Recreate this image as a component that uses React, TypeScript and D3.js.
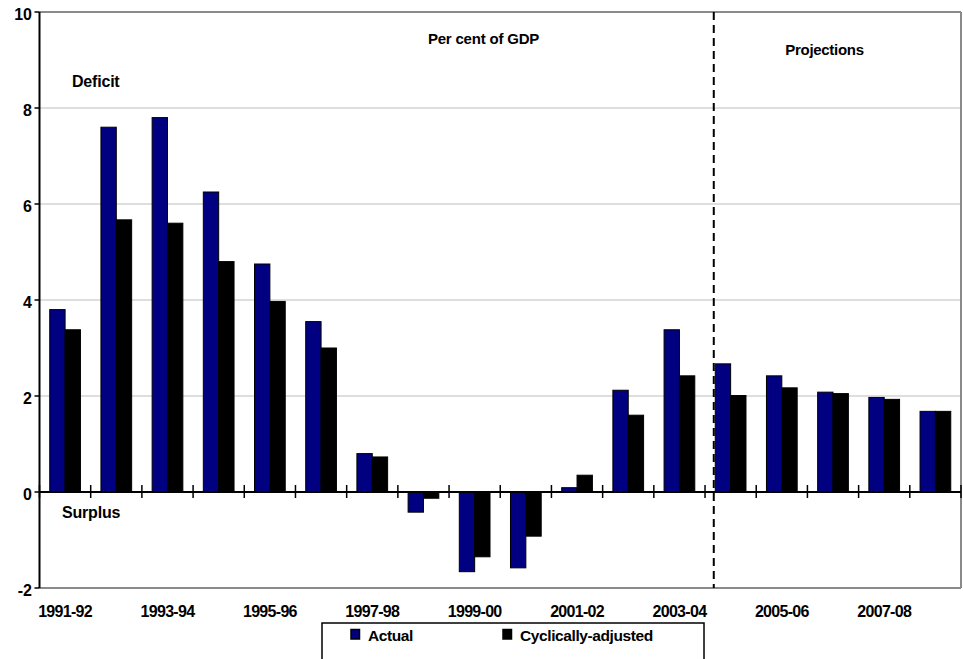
import React, { useEffect, useRef } from "react";
import * as d3 from "d3";

// Fiscal years on the category axis
const years = [
  "1991-92", "1992-93", "1993-94", "1994-95", "1995-96", "1996-97",
  "1997-98", "1998-99", "1999-00", "2000-01", "2001-02", "2002-03",
  "2003-04", "2004-05", "2005-06", "2006-07", "2007-08", "2008-09",
];
// Budget deficit, per cent of GDP
const actual = [
  3.8, 7.6, 7.8, 6.25, 4.75, 3.55, 0.8, -0.42, -1.66, -1.58, 0.09, 2.12,
  3.38, 2.67, 2.42, 2.08, 1.97, 1.68,
];
const cyclicallyAdjusted = [
  3.38, 5.67, 5.6, 4.8, 3.97, 3.0, 0.73, -0.13, -1.35, -0.92, 0.35, 1.6,
  2.42, 2.01, 2.17, 2.05, 1.93, 1.68,
];
const yTicks = [-2, 0, 2, 4, 6, 8, 10];
const firstProjection = "2004-05";

const W = 963;
const H = 659;
const FONT = "'Liberation Sans', Arial, sans-serif";

export default function App() {
  const ref = useRef<SVGSVGElement | null>(null);

  useEffect(() => {
    const svg = d3.select(ref.current);
    svg.selectAll("*").remove();

    const left = 39.5;
    const right = 961;
    const top = 12;
    const bottom = 588;

    const x = d3.scaleBand<string>().domain(years).range([left, right]).padding(0);
    const y = d3.scaleLinear().domain([-2, 10]).range([bottom, top]);
    const step = x.step();
    const barW = step * 0.3;
    const y0 = y(0);

    // horizontal gridlines
    svg
      .append("g")
      .selectAll("line")
      .data(yTicks.filter((t) => t !== 0 && t !== -2 && t !== 10))
      .join("line")
      .attr("x1", left)
      .attr("x2", right)
      .attr("y1", (d) => y(d))
      .attr("y2", (d) => y(d))
      .attr("stroke", "#bdbdbd")
      .attr("stroke-width", 1);

    // plot frame (top, right, bottom)
    const frame = svg.append("g").attr("stroke", "#8a8a8a").attr("stroke-width", 2).attr("fill", "none");
    frame.append("line").attr("x1", left).attr("x2", right).attr("y1", top).attr("y2", top);
    frame.append("line").attr("x1", right).attr("x2", right).attr("y1", top).attr("y2", bottom);
    frame.append("line").attr("x1", left).attr("x2", right).attr("y1", bottom).attr("y2", bottom);

    // bars
    const offset = (step - 2 * barW) / 2;
    const series = [
      { values: actual, color: "#000080", dx: offset },
      { values: cyclicallyAdjusted, color: "#000000", dx: offset + barW },
    ];
    series.forEach((s) => {
      svg
        .append("g")
        .selectAll("rect")
        .data(years.map((yr, i) => ({ yr, v: s.values[i] })))
        .join("rect")
        .attr("x", (d) => (x(d.yr) as number) + s.dx)
        .attr("width", barW)
        .attr("y", (d) => Math.min(y(d.v), y0))
        .attr("height", (d) => Math.abs(y(d.v) - y0))
        .attr("fill", s.color)
        .attr("stroke", "#000")
        .attr("stroke-width", 1);
    });

    // projections divider
    const xd = (x(firstProjection) as number) + offset - 1.5;
    svg
      .append("line")
      .attr("x1", xd)
      .attr("x2", xd)
      .attr("y1", top)
      .attr("y2", bottom)
      .attr("stroke", "#000")
      .attr("stroke-width", 2)
      .attr("stroke-dasharray", "8,5");

    // zero axis with category ticks
    svg
      .append("line")
      .attr("x1", left)
      .attr("x2", right)
      .attr("y1", y0)
      .attr("y2", y0)
      .attr("stroke", "#000")
      .attr("stroke-width", 2);
    svg
      .append("g")
      .selectAll("line")
      .data(d3.range(years.length + 1))
      .join("line")
      .attr("x1", (i) => left + i * step)
      .attr("x2", (i) => left + i * step)
      .attr("y1", y0 - 7)
      .attr("y2", y0 + 6)
      .attr("stroke", "#000")
      .attr("stroke-width", 1.5);

    // value axis
    svg
      .append("line")
      .attr("x1", left)
      .attr("x2", left)
      .attr("y1", top)
      .attr("y2", bottom)
      .attr("stroke", "#000")
      .attr("stroke-width", 2);
    const yAxis = svg.append("g");
    yAxis
      .selectAll("line")
      .data(yTicks)
      .join("line")
      .attr("x1", left - 5)
      .attr("x2", left)
      .attr("y1", (d) => y(d))
      .attr("y2", (d) => y(d))
      .attr("stroke", "#000")
      .attr("stroke-width", 1.5);
    yAxis
      .selectAll("text")
      .data(yTicks)
      .join("text")
      .attr("x", left - 8)
      .attr("y", (d) => y(d) + 7.5)
      .attr("text-anchor", "end")
      .attr("font-family", FONT)
      .attr("font-weight", "bold")
      .attr("font-size", 16)
      .attr("letter-spacing", -0.3)
      .text((d) => d);

    // category labels, every second year
    svg
      .append("g")
      .selectAll("text")
      .data(years.filter((_, i) => i % 2 === 0))
      .join("text")
      .attr("x", (d) => (x(d) as number) + step / 2)
      .attr("y", bottom + 28.5)
      .attr("text-anchor", "middle")
      .attr("font-family", FONT)
      .attr("font-weight", "bold")
      .attr("font-size", 16)
      .attr("letter-spacing", -0.7)
      .text((d) => d);

    // annotations
    const note = (tx: number, ty: number, s: string, size: number, ls: number, anchor = "start") =>
      svg
        .append("text")
        .attr("x", tx)
        .attr("y", ty)
        .attr("text-anchor", anchor)
        .attr("font-family", FONT)
        .attr("font-weight", "bold")
        .attr("font-size", size)
        .attr("letter-spacing", ls)
        .text(s);
    note(483.5, 44, "Per cent of GDP", 15, -0.2, "middle");
    note(824.5, 55, "Projections", 15, -0.3, "middle");
    note(72, 86.5, "Deficit", 16, -0.2);
    note(62, 518, "Surplus", 16, -0.2);

    // legend
    const lg = svg.append("g");
    lg.append("rect")
      .attr("x", 322)
      .attr("y", 623)
      .attr("width", 382)
      .attr("height", 60)
      .attr("fill", "#fff")
      .attr("stroke", "#000")
      .attr("stroke-width", 1.5);
    const items = [
      { label: "Actual", color: "#000080", x: 351 },
      { label: "Cyclically-adjusted", color: "#000000", x: 503 },
    ];
    items.forEach((it) => {
      lg.append("rect")
        .attr("x", it.x)
        .attr("y", 629.5)
        .attr("width", 8.5)
        .attr("height", 9.5)
        .attr("fill", it.color)
        .attr("stroke", "#000")
        .attr("stroke-width", 1.5);
      lg.append("text")
        .attr("x", it.x + 17)
        .attr("y", 640.5)
        .attr("font-family", FONT)
        .attr("font-weight", "bold")
        .attr("font-size", 15.5)
        .attr("letter-spacing", -0.4)
        .text(it.label);
    });
  }, []);

  return (
    <svg
      ref={ref}
      width={W}
      height={H}
      style={{ position: "absolute", left: 0, top: 0, background: "#fff" }}
    />
  );
}
